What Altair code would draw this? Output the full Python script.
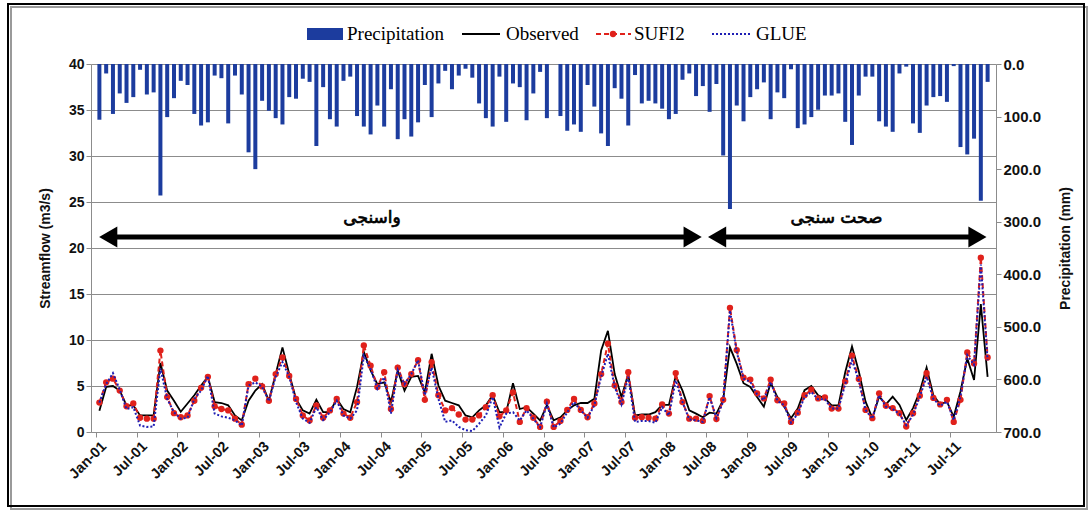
import altair as alt
import pandas as pd

tick_labels = ["Jan-01", "Jul-01", "Jan-02", "Jul-02", "Jan-03", "Jul-03", "Jan-04", "Jul-04",
               "Jan-05", "Jul-05", "Jan-06", "Jul-06", "Jan-07", "Jul-07", "Jan-08", "Jul-08",
               "Jan-09", "Jul-09", "Jan-10", "Jul-10", "Jan-11", "Jul-11"]

precip = [106, 18, 95, 56, 74, 63, 11, 58, 54, 250, 101, 65, 32, 40, 95, 117, 111, 22, 27, 113, 22, 58,
          168, 200, 70, 89, 103, 115, 63, 66, 28, 34, 156, 44, 105, 119, 32, 24, 99, 119, 134, 79, 119, 48, 143,
          105, 138, 111, 40, 101, 37, 13, 48, 22, 9, 26, 75, 103, 119, 24, 110, 37, 44, 107, 56, 15, 103,
          0, 99, 127, 115, 129, 40, 81, 132, 156, 46, 66, 117, 21, 75, 70, 75, 85, 105, 95, 30, 18, 61, 42,
          91, 38, 174, 276, 79, 109, 63, 48, 35, 105, 54, 65, 10, 122, 115, 101, 87, 60, 60, 56, 110, 154, 60,
          24, 24, 109, 119, 129, 18, 5, 113, 131, 79, 63, 61, 72, 4, 158, 172, 142, 260, 34]

observed = [2.3, 4.9, 5.0, 4.5, 2.9, 2.9, 1.8, 1.8, 1.8, 7.5, 4.5, 3.4, 2.2, 3.1, 4.0, 5.05, 6.0, 3.25, 3.15, 2.9, 1.8, 1.26,
            3.4, 4.5, 5.2, 3.4, 6.3, 9.2, 6.3, 3.6, 2.35, 2.0, 3.5, 2.15, 2.15, 3.6, 2.5, 2.15, 4.9, 8.7, 6.7, 5.2, 5.4, 3.25, 6.7,
            4.5, 6.0, 6.1, 4.3, 8.5, 5.05, 3.4, 3.15, 2.9, 1.8, 1.6, 2.35, 2.9, 4.0, 2.15, 2.15, 5.3, 2.5, 2.7, 2.0, 1.25, 2.9,
            1.26, 1.6, 2.35, 2.9, 3.15, 3.15, 3.6, 8.85, 11.0, 6.3, 3.8, 6.3, 1.8, 1.9, 1.9, 2.15, 2.95, 2.95, 6.1, 4.5, 2.35, 2.0, 1.6,
            2.1, 2.0, 3.5, 9.2, 7.4, 5.3, 4.9, 3.8, 2.75, 5.35, 3.8, 2.75, 1.5, 2.55, 4.55, 5.0, 4.0, 3.65, 2.9, 2.9, 6.5, 9.3, 6.6,
            3.3, 1.5, 3.85, 3.0, 3.85, 2.95, 1.3, 2.6, 4.4, 7.0, 4.0, 3.0, 3.3, 1.65, 4.4, 8.0, 5.65, 13.9, 6.0]

sufi2 = [3.2, 5.4, 5.8, 4.5, 2.8, 3.1, 1.55, 1.45, 1.45, 8.85, 3.8, 2.05, 1.6, 1.8, 3.4, 4.8, 6.0, 2.8, 2.5, 2.35, 1.45, 0.8,
         5.2, 5.8, 4.95, 3.4, 6.3, 8.1, 6.1, 3.6, 1.8, 1.25, 2.9, 1.55, 2.35, 3.6, 2.0, 1.55, 3.25, 9.4, 7.2, 4.9, 6.5, 2.5, 7.0,
         5.2, 6.3, 7.8, 3.5, 7.6, 4.0, 2.35, 2.6, 1.9, 1.35, 1.35, 1.8, 2.7, 4.0, 1.7, 2.35, 4.3, 1.1, 2.6, 1.55, 0.55, 3.3,
         0.55, 1.2, 2.4, 3.6, 2.4, 1.6, 3.1, 6.3, 9.6, 5.05, 3.25, 6.5, 1.55, 1.6, 1.55, 1.45, 3.0, 2.0, 6.4, 3.25, 1.45, 1.45, 1.2,
         3.9, 1.4, 3.5, 13.5, 8.9, 5.9, 5.7, 4.2, 3.65, 5.7, 3.45, 3.1, 1.1, 2.1, 4.0, 4.6, 3.65, 3.75, 2.55, 2.55, 5.5, 8.3, 5.75,
         2.4, 1.5, 4.2, 2.85, 2.6, 2.05, 0.6, 2.05, 3.95, 6.4, 3.7, 3.0, 3.5, 1.1, 3.5, 8.65, 7.45, 18.95, 8.1]

glue = [3.2, 5.2, 6.4, 4.6, 2.5, 2.7, 0.7, 0.55, 0.6, 6.9, 3.6, 2.15, 1.45, 1.55, 3.6, 4.5, 6.1, 2.0, 1.7, 1.55, 1.26, 0.7,
        5.05, 5.4, 4.9, 3.35, 6.0, 7.6, 6.0, 3.25, 1.45, 1.0, 2.7, 1.3, 2.15, 3.4, 1.8, 1.45, 2.35, 8.3, 6.85, 4.7, 5.95, 2.0, 6.75,
        5.2, 6.3, 7.8, 4.0, 7.0, 3.6, 1.1, 1.26, 0.55, 0.2, 0.1, 0.9, 1.8, 3.8, 0.5, 2.0, 2.15, 1.26, 2.35, 1.45, 0.5, 3.1,
        0.5, 0.9, 2.15, 3.25, 2.35, 1.55, 2.9, 6.0, 8.5, 4.9, 3.0, 6.0, 1.1, 1.2, 1.2, 1.0, 2.7, 1.8, 5.6, 3.25, 1.35, 1.26, 1.1,
        3.8, 1.5, 3.3, 13.2, 8.7, 5.8, 5.45, 4.1, 3.45, 5.45, 3.4, 2.9, 1.0, 2.0, 3.8, 4.35, 3.55, 3.55, 2.55, 2.55, 5.2, 7.8, 5.6,
        2.4, 1.45, 4.0, 2.75, 2.5, 1.95, 0.75, 1.85, 3.85, 6.0, 3.6, 2.85, 3.3, 1.3, 3.85, 8.35, 7.3, 18.2, 7.8]

periods = ["واسنجی", "صحت سنجی"]
period_start = [-0.2, 89.6]
period_end = [89.0, 131.0]
period_label_x = [40.2, 108.7]
arrow_level = 21.2
label_level = 23.3

n = len(observed)
df = pd.DataFrame({"m": list(range(n)), "precip": precip, "obs": observed,
                   "sufi2": sufi2, "glue": glue})

GRAY = "#8c8c8c"
BLUE_BAR = "#1C3C9E"
RED = "#E0211B"
BLUE_LINE = "#1E1EB4"

label_expr = "[" + ",".join(f"'{t}'" for t in tick_labels) + "][round((datum.value+0.5)/6)]"
xs = alt.Scale(domain=[-0.5, n - 0.5], nice=False, zero=False)
x_axis = alt.Axis(values=[6 * k - 0.5 for k in range(len(tick_labels))], labelExpr=label_expr,
                  labelAngle=-45, labelOffset=3, labelOverlap=False, title=None, grid=False,
                  domainColor=GRAY, tickColor=GRAY, tickSize=5, labelFontSize=14.5,
                  labelFontWeight="bold", labelColor="#111", labelPadding=2)


def X(field):
    return alt.X(f"{field}:Q", scale=xs, axis=x_axis)


ys = alt.Scale(domain=[0, 40], nice=False, zero=True)
left_axis = alt.Axis(orient="left", values=list(range(0, 45, 5)), title="Streamflow (m3/s)",
                     grid=True, gridColor=GRAY, gridWidth=1, domainColor=GRAY, tickColor=GRAY,
                     tickSize=5, labelFontSize=14, labelFontWeight="bold", labelColor="#111",
                     titleFontSize=14, titleFontWeight="bold", titleColor="#111", titlePadding=16)


def YL(field):
    return alt.Y(f"{field}:Q", scale=ys, axis=left_axis)


right_axis = alt.Axis(orient="right", values=list(range(0, 800, 100)), format=".1f",
                      title="Precipitation (mm)", grid=False, domainColor=GRAY, tickColor=GRAY,
                      tickSize=5, labelFontSize=15, labelFontWeight="bold", labelColor="#111",
                      titleFontSize=14, titleFontWeight="bold", titleColor="#111",
                      titlePadding=32, titleAngle=-90)

bars = alt.Chart(df).mark_bar(size=4, color=BLUE_BAR).encode(
    x=X("m"),
    y=alt.Y("precip:Q", scale=alt.Scale(domain=[0, 700], reverse=True, nice=False, zero=True),
            axis=right_axis),
)

obs_line = alt.Chart(df).mark_line(color="black", strokeWidth=1.8).encode(x=X("m"), y=YL("obs"))
sufi_line = alt.Chart(df).mark_line(color=RED, strokeWidth=2, strokeDash=[5, 3]).encode(
    x=X("m"), y=YL("sufi2"))
sufi_pts = alt.Chart(df).mark_circle(color=RED, size=40, opacity=1).encode(x=X("m"), y=YL("sufi2"))
glue_line = alt.Chart(df).mark_line(color=BLUE_LINE, strokeWidth=2, strokeDash=[2, 2]).encode(
    x=X("m"), y=YL("glue"))

arrow_df = pd.DataFrame({"a": [s + 1.4 for s in period_start], "b": [e - 1.4 for e in period_end],
                         "lvl": [arrow_level] * 2})
arrow_rules = alt.Chart(arrow_df).mark_rule(color="black", strokeWidth=5).encode(
    x=X("a"), x2="b:Q", y=YL("lvl"))

heads_df = pd.DataFrame({
    "hx": [period_start[0] + 1.5, period_end[0] - 1.5, period_start[1] + 1.5, period_end[1] - 1.5],
    "lvl": [arrow_level] * 4,
    "shape": ["triangle-left", "triangle-right", "triangle-left", "triangle-right"],
})
arrow_heads = alt.Chart(heads_df).mark_point(filled=True, color="black", opacity=1, size=440,
                                             strokeWidth=0).encode(
    x=X("hx"), y=YL("lvl"), shape=alt.Shape("shape:N", scale=None))

label_df = pd.DataFrame({"lx": period_label_x, "ly": [label_level] * 2, "t": periods})
arrow_text = alt.Chart(label_df).mark_text(font="DejaVu Sans", fontSize=17, fontWeight="normal",
                                           color="black", stroke="black", strokeWidth=0.7).encode(
    x=X("lx"), y=YL("ly"), text="t:N")

# manual legend (positions relative to plot origin)
dummy = pd.DataFrame({"d": [0]})
LEG_Y = -30
leg_font = dict(font="Liberation Serif", fontSize=19, color="black", align="left", baseline="middle")
leg = [
    alt.Chart(dummy).mark_rect(color=BLUE_BAR).encode(
        x=alt.value(216), x2=alt.value(252), y=alt.value(LEG_Y - 6), y2=alt.value(LEG_Y + 6)),
    alt.Chart(dummy).mark_text(**leg_font).encode(
        x=alt.value(256), y=alt.value(LEG_Y), text=alt.value("Precipitation")),
    alt.Chart(dummy).mark_rule(color="black", strokeWidth=1.8).encode(
        x=alt.value(371), x2=alt.value(409), y=alt.value(LEG_Y)),
    alt.Chart(dummy).mark_text(**leg_font).encode(
        x=alt.value(415), y=alt.value(LEG_Y), text=alt.value("Observed")),
    alt.Chart(dummy).mark_rule(color=RED, strokeWidth=2, strokeDash=[5, 3]).encode(
        x=alt.value(505), x2=alt.value(540), y=alt.value(LEG_Y)),
    alt.Chart(dummy).mark_circle(color=RED, size=40, opacity=1).encode(
        x=alt.value(522), y=alt.value(LEG_Y)),
    alt.Chart(dummy).mark_text(**leg_font).encode(
        x=alt.value(543), y=alt.value(LEG_Y), text=alt.value("SUFI2")),
    alt.Chart(dummy).mark_rule(color=BLUE_LINE, strokeWidth=2, strokeDash=[2, 2]).encode(
        x=alt.value(621), x2=alt.value(659), y=alt.value(LEG_Y)),
    alt.Chart(dummy).mark_text(**leg_font).encode(
        x=alt.value(665), y=alt.value(LEG_Y), text=alt.value("GLUE")),
]

frame = alt.Chart(dummy).mark_rect(fillOpacity=0, stroke="black", strokeWidth=2).encode(
    x=alt.value(-83), x2=alt.value(993), y=alt.value(-60), y2=alt.value(442))
shadow = alt.Chart(dummy).mark_rect(fillOpacity=0, stroke="#9a9a9a", strokeWidth=2).encode(
    x=alt.value(-80), x2=alt.value(996), y=alt.value(-57), y2=alt.value(445))

inner = alt.layer(obs_line, sufi_line, sufi_pts, glue_line, arrow_rules, arrow_heads, arrow_text,
                  *leg, shadow, frame)

chart = alt.layer(bars, inner).resolve_scale(y="independent").properties(
    width=905, height=368,
    autosize=alt.AutoSizeParams(type="none"),
    padding={"left": 91, "top": 64, "right": 95, "bottom": 79},
    background="white",
).configure_view(stroke=None).configure_axis(labelFont="Liberation Sans", titleFont="Liberation Sans")

chart.save("out.html", embed_options={"renderer": "svg", "actions": False})
